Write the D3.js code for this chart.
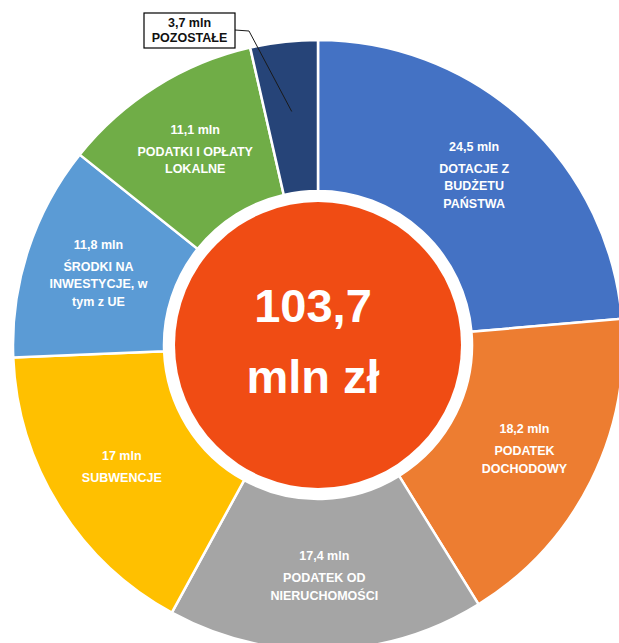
<!DOCTYPE html>
<html>
<head>
<meta charset="utf-8">
<script src="https://cdn.jsdelivr.net/npm/d3@7"></script>
<style>
body{margin:0;background:#fff}
svg{display:block}
text{font-family:"Liberation Sans",Arial,sans-serif;font-weight:bold}
</style>
</head>
<body>
<script>
// dane
const values=[24.5,18.2,17.4,17,11.8,11.1,3.7]
const amounts=["24,5 mln","18,2 mln","17,4 mln","17 mln","11,8 mln","11,1 mln","3,7 mln"]
const names=[
	["DOTACJE Z","BUDŻETU","PAŃSTWA"],
	["PODATEK","DOCHODOWY"],
	["PODATEK OD","NIERUCHOMOŚCI"],
	["SUBWENCJE"],
	["ŚRODKI NA","INWESTYCJE, w","tym z UE"],
	["PODATKI I OPŁATY","LOKALNE"],
	["POZOSTAŁE"]
]
const colors=["#4472c4","#ed7d31","#a5a5a5","#ffc000","#5b9bd5","#70ad47","#264478"]
const total_lines=["103,7","mln zł"]

const W=619,H=643
const cx=318,cy=345
const R=305,r_in=154,r_center=143

const svg=d3.select("body").append("svg")
	.attr("width",W)
	.attr("height",H)

const data=values.map((v,i)=>({value:v,amount:amounts[i],name:names[i],color:colors[i]}))

const pie=d3.pie().sort(null).value(d=>d.value)
const arc=d3.arc().innerRadius(r_in).outerRadius(R)
const label_arc=d3.arc().innerRadius(231).outerRadius(231)

const g=svg.append("g").attr("transform","translate("+cx+","+cy+")")
const arcs=pie(data)

g.selectAll("path").data(arcs).enter().append("path")
	.attr("d",arc)
	.attr("fill",d=>d.data.color)
	.attr("stroke","#fff")
	.attr("stroke-width",2.5)

// srodek
g.append("circle")
	.attr("r",r_center)
	.attr("fill","#f04c14")
g.append("text")
	.attr("x",-5).attr("y",-23)
	.attr("text-anchor","middle")
	.attr("font-size",47)
	.attr("fill","#fff")
	.text(total_lines[0])
g.append("text")
	.attr("x",-5).attr("y",48)
	.attr("text-anchor","middle")
	.attr("font-size",47)
	.attr("fill","#fff")
	.text(total_lines[1])

// etykiety wewnatrz
const inside=arcs.filter(d=>d.data.value>5)
for(const a of inside){
	const c=label_arc.centroid(a)
	const n=a.data.name.length
	const block=16+4+n*17.5
	let y0=c[1]-block/2+12
	const t=g.append("text")
		.attr("text-anchor","middle")
		.attr("font-size",12.5)
		.attr("fill","#fff")
	t.append("tspan").attr("x",c[0]).attr("y",y0).text(a.data.amount)
	a.data.name.forEach((s,k)=>{
		t.append("tspan").attr("x",c[0]).attr("y",y0+22+k*17.5).text(s)
	})
}

// pozostale - opis z linia
const small=arcs.filter(d=>d.data.value<=5)
for(const a of small){
	const ang=(a.startAngle+a.endAngle)/2
	const p=[Math.sin(ang)*235,-Math.cos(ang)*235]
	const bx=144-cx,by=13-cy,bw=91,bh=35
	g.append("polyline")
		.attr("points",[[bx+bw,by+17],[bx+bw+14,by+18],p].map(q=>q.join(",")).join(" "))
		.attr("fill","none")
		.attr("stroke","#1a1a1a")
		.attr("stroke-width",1)
	g.append("rect")
		.attr("x",bx).attr("y",by)
		.attr("width",bw).attr("height",bh)
		.attr("fill","#fff")
		.attr("stroke","#000")
		.attr("stroke-width",1.2)
	const t=g.append("text")
		.attr("text-anchor","middle")
		.attr("font-size",12.5)
		.attr("fill","#111")
	t.append("tspan").attr("x",bx+bw/2).attr("y",by+14).text(a.data.amount)
	t.append("tspan").attr("x",bx+bw/2).attr("y",by+29).text(a.data.name[0])
}
</script>
</body>
</html>
